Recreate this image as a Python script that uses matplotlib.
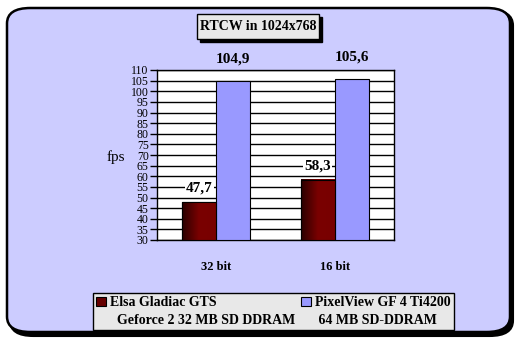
import matplotlib.pyplot as plt
import numpy as np
from matplotlib.patches import FancyBboxPatch, Rectangle

plt.rcParams['font.family'] = ['Liberation Serif', 'DejaVu Serif']

# data
categories = ['32 bit', '16 bit']
elsa = [47.7, 58.3]
pixelview = [104.9, 105.6]
series_names = ['Elsa Gladiac GTS', 'PixelView GF 4 Ti4200']
series_sub = ['  Geforce 2 32 MB SD DDRAM', ' 64 MB SD-DDRAM']
yticks = list(range(30, 111, 5))

W, H = 521, 342
fig = plt.figure(figsize=(W / 100, H / 100), dpi=100)
fig.patch.set_facecolor('white')

def px(x, y):
    # pixel (from top left) -> figure fraction
    return x / W, 1 - y / H

# outer rounded frame with shadow
sh = FancyBboxPatch(px(10, 336), (513 - 10) / W, (336 - 10) / H,
                    boxstyle='round,pad=0,rounding_size=0.045',
                    transform=fig.transFigure, fc='black', ec='black', lw=1.5, zorder=-3)
fig.patches.append(sh)
frame = FancyBboxPatch(px(7, 332), (510 - 7) / W, (332 - 8) / H,
                       boxstyle='round,pad=0,rounding_size=0.045',
                       transform=fig.transFigure, fc='#CCCCFF', ec='black', lw=1.8, zorder=-2)
fig.patches.append(frame)

# title box
for dx, fc in [(3, 'black'), (0, '#E8E8E8')]:
    x0, y0 = px(197 + dx, 39 + dx)
    fig.patches.append(Rectangle((x0, y0), 122 / W, 25 / H, transform=fig.transFigure,
                                 fc=fc, ec='black', lw=1.0, zorder=-1))
fig.text(*px(258, 27), 'RTCW in 1024x768', ha='center', va='center',
         fontsize=10, fontweight='bold')

# axes
ax = fig.add_axes([157 / W, 1 - 240 / H, (394 - 157) / W, (240 - 70) / H])
ax.set_facecolor('white')
x = np.arange(len(categories))
w = 0.286
red_bars = ax.bar(x - w / 2, [v - 30 for v in elsa], w, bottom=30, color='#660000',
                  edgecolor='black', lw=0.8, zorder=3)
blue_bars = ax.bar(x + w / 2, [v - 30 for v in pixelview], w, bottom=30, color='#9999FF',
                   edgecolor='black', lw=0.8, zorder=3)

# gradient on the red bars
grad = np.linspace(0, 1, 64).reshape(1, -1)
cmap = plt.matplotlib.colors.LinearSegmentedColormap.from_list('rg', ['#2a0000', '#7a0000', '#780000'])
for b in red_bars:
    bx, by = b.get_x(), b.get_y()
    ax.imshow(grad, extent=[bx, bx + b.get_width(), by, by + b.get_height()],
              aspect='auto', cmap=cmap, zorder=3.5)
    ax.add_patch(Rectangle((bx, by), b.get_width(), b.get_height(), fill=False,
                           ec='black', lw=0.8, zorder=4))

ax.set_xlim(-0.5, 1.5)
ax.set_ylim(30, 110)
ax.set_yticks(yticks)
ax.set_yticklabels([str(t) for t in yticks], fontsize=8.5)
ax.tick_params(axis='y', direction='out', length=5, width=1, pad=1)
ax.set_xticks(x)
ax.set_xticklabels(categories, fontsize=9, fontweight='bold')
ax.tick_params(axis='x', length=0, pad=15)
ax.yaxis.grid(True, color='black', lw=1)
ax.set_axisbelow(True)
for s in ax.spines.values():
    s.set_linewidth(1)

for i, v in enumerate(elsa):
    ax.annotate(f'{v}'.replace('.', ','), (x[i] - w / 2, v), xytext=(0, 10),
                textcoords='offset points', ha='center', va='center', fontsize=11,
                fontweight='bold', bbox=dict(fc='white', ec='none', pad=1), zorder=5)
for i, v in enumerate(pixelview):
    ax.annotate(f'{v}'.replace('.', ','), (x[i] + w / 2, v), xytext=(0, 16),
                textcoords='offset points', ha='center', va='center', fontsize=11,
                fontweight='bold', annotation_clip=False, zorder=5)

fig.text(*px(116, 157), 'fps', ha='center', va='center', fontsize=11)

# legend: marker on the first line, second line without marker
blank = Rectangle((0, 0), 1, 1, fill=False, ec='none')
leg = fig.legend([red_bars, blank, blue_bars, blank],
                 [series_names[0], series_sub[0], series_names[1], series_sub[1]], ncol=2,
                 loc='upper left', bbox_to_anchor=px(93, 293),
                 prop={'weight': 'bold', 'size': 10},
                 frameon=True, fancybox=False, handlelength=0.7, handleheight=0.7,
                 handletextpad=0.3, columnspacing=0.4, borderpad=0.25,
                 labelspacing=0.3, borderaxespad=0)
leg.get_frame().set_facecolor('#E8E8E8')
leg.get_frame().set_edgecolor('black')
leg.get_frame().set_linewidth(1)
leg.get_frame().set_alpha(1)
for hnd in (leg.legend_handles[0], leg.legend_handles[2]):
    hnd.set_edgecolor('black')
leg.legend_handles[0].set_facecolor('#660000')

fig.savefig('out.png', dpi=100)
